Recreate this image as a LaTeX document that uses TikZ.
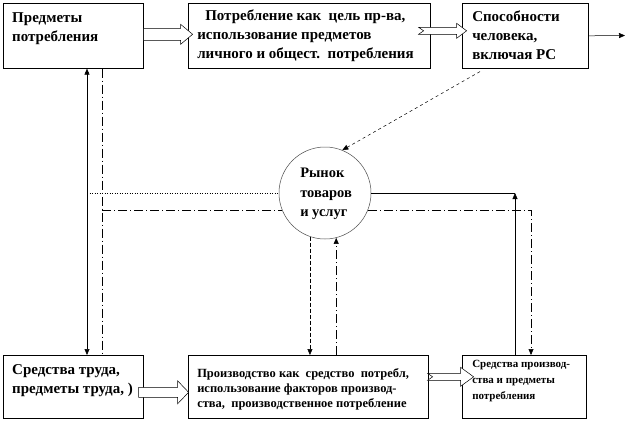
\documentclass[tikz,border=0pt]{standalone}
\usepackage{fontspec}
\setmainfont{Liberation Serif}
\usetikzlibrary{arrows.meta, calc}

% hollow block arrow: start, length, shaft half, head half, head length, notch
\newcommand{\fatarr}[6]{%
  \draw[fill=white, line width=0.5pt] (#1) ++(0,-#3) -- ++({#2-#5},0) -- ++(0,{#3-#4})
    -- ++(#5,#4) -- ++(-#5,#4) -- ++(0,{#3-#4}) -- ++({#5-#2},0) -- ++(#6,-#3) -- cycle;}

\tikzset{
  blok/.style={draw, line width=0.6pt, anchor=north west, inner sep=0pt},
  txt/.style={anchor=north west, align=left, inner sep=0pt, font=\bfseries\fontsize{15}{19}\selectfont},
  small/.style={txt, font=\bfseries\fontsize{12.5}{15}\selectfont},
  tiny/.style={txt, font=\bfseries\fontsize{11}{16}\selectfont},
  dashdot/.style={dash pattern=on 9pt off 3pt on 1pt off 3pt},
  tip/.style={-{Triangle[length=6pt,width=5pt]}},
}

\begin{document}
\begin{tikzpicture}[x=1pt, y=-1pt, line width=0.5pt]
\useasboundingbox (0,0) rectangle (628,423);
% upper row
\node[blok, minimum width=140pt, minimum height=65pt] (predm) at (3,3) {};
\node[txt] (predmT) at (12,12) {Предметы\\потребления};
\node[blok, minimum width=242pt, minimum height=65pt] (potr) at (188,3) {};
\node[txt] (potrT) at (197,10) {\hspace*{8pt}Потребление как\ \ цель пр-ва,\\использование предметов\\личного и общест.\ \ потребления};
\node[blok, minimum width=126pt, minimum height=65pt] (sposob) at (462,3) {};
\node[txt] (sposobT) at (472,11) {Способности\\человека,\\включая РС};
\coordinate (vyhod) at (625,35.5);
% market
\node[circle, draw=black!70, minimum size=92pt, inner sep=0pt] (rynok) at (325,193) {};
\node[txt, font=\bfseries\fontsize{14.5}{19.5}\selectfont] (rynokT) at (300,168) {Рынок\\товаров\\и услуг};
% lower row
\node[blok, minimum width=140pt, minimum height=63pt] (sredtr) at (3,355) {};
\node[txt] (sredtrT) at (12,364) {Средства труда,\\предметы труда, )};
\node[blok, minimum width=240pt, minimum height=63pt] (proizv) at (188,355) {};
\node[small] (proizvT) at (197,368) {Производство как\ \ средство\ \ потребл,\\использование факторов производ-\\ства,\ \ производственное потребление};
\node[blok, minimum width=124pt, minimum height=63pt] (sredpr) at (462,355) {};
\node[tiny] (sredprT) at (472,360) {Средства производ-\\ства и предметы\\потребления};
% verticals
\coordinate (xL) at (87,0);
\coordinate (xR) at (102,0);
\coordinate (xA) at (515,0);
\coordinate (xB) at (531,0);

% fat arrows
\fatarr{$(predm.east)+(0,-1.5)$}{49}{6}{10}{12}{0}
\fatarr{$(potr.east)+(-12,-5)$}{48}{3.5}{7.5}{10}{5}
\fatarr{$(sredtr.east)+(-5,5.5)$}{50}{5}{11.5}{11}{0}
\fatarr{$(proizv.east)+(-1,-10)$}{46}{3.5}{9.5}{13}{5}

% connections
\draw[tip] (sposob.east) -- (vyhod);
\draw[{Triangle[length=6pt,width=5pt]}-{Triangle[length=6pt,width=5pt]}] (predm.south -| xL) -- (sredtr.north -| xL);
\draw[dashdot] (predm.south -| xR) -- (sredtr.north -| xR);
\draw[dotted] (rynok.west -| xL) -- (rynok.west);
\draw[dashdot] (rynok.202 -| xR) -- (rynok.202);
\draw (rynok.east) -- (rynok.east -| xA);
\draw[tip] (sredpr.north -| xA) -- (rynok.east -| xA);
\draw[dashdot, tip] (rynok.338) -| (sredpr.north -| xB);
\draw[dash pattern=on 3pt off 3pt, tip] ($(sposob.south west)+(18,3)$) -- (rynok.68);
\draw[dash pattern=on 4pt off 2pt, tip] (rynok.251) -- (rynok.251 |- proizv.north);
\draw[dashdot, tip] (proizv.north -| rynok.284) -- (rynok.284);
\end{tikzpicture}
\end{document}
